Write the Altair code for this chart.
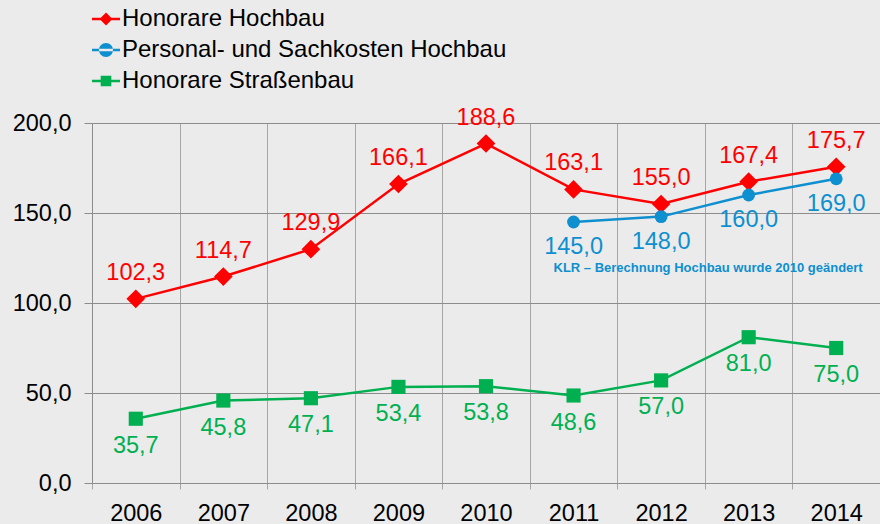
import altair as alt
import pandas as pd

YEARS = ["2006", "2007", "2008", "2009", "2010", "2011", "2012", "2013", "2014"]
HOCHBAU = [102.3, 114.7, 129.9, 166.1, 188.6, 163.1, 155.0, 167.4, 175.7]
PERSONAL_YEARS = ["2011", "2012", "2013", "2014"]
PERSONAL = [145.0, 148.0, 160.0, 169.0]
STRASSE = [35.7, 45.8, 47.1, 53.4, 53.8, 48.6, 57.0, 81.0, 75.0]
SERIES = ["Honorare Hochbau", "Personal- und Sachkosten Hochbau", "Honorare Straßenbau"]
COLORS = ["#FF0000", "#0E8FCF", "#00B050"]
Y_TICKS = [0, 50, 100, 150, 200]
NOTE_TEXT = "KLR – Berechnung Hochbau wurde 2010 geändert"
NOTE_YEAR = "2012"
NOTE_VALUE = 119.4

FONT = "Liberation Sans"
FS = 23.5

rows = []
for yr, v in zip(YEARS, HOCHBAU):
    rows.append({"year": yr, "value": v, "series": SERIES[0]})
for yr, v in zip(PERSONAL_YEARS, PERSONAL):
    rows.append({"year": yr, "value": v, "series": SERIES[1]})
for yr, v in zip(YEARS, STRASSE):
    rows.append({"year": yr, "value": v, "series": SERIES[2]})
df = pd.DataFrame(rows)
df["label"] = df["value"].map(lambda v: f"{v:.1f}".replace(".", ","))

x = alt.X(
    "year:O",
    sort=YEARS,
    scale=alt.Scale(type="band", domain=YEARS, paddingInner=0, paddingOuter=0),
    axis=alt.Axis(
        title=None, grid=True, tickBand="extent", labelAngle=0,
        domainColor="#8C8C8C", gridColor="#A6A6A6", tickColor="#A6A6A6",
        tickSize=6, labelFontSize=FS, labelFont=FONT, labelColor="#000000",
        labelPadding=12,
    ),
)
y = alt.Y(
    "value:Q",
    scale=alt.Scale(domain=[0, 200], nice=False, zero=True),
    axis=alt.Axis(
        title=None, values=Y_TICKS, grid=True,
        labelExpr="replace(format(datum.value, '.1f'), '.', ',')",
        domainColor="#8C8C8C", gridColor="#8C8C8C", tickColor="#8C8C8C",
        tickSize=8, labelFontSize=FS, labelFont=FONT, labelColor="#000000",
        labelPadding=13,
    ),
)

base = alt.Chart(df)

SHAPES = ["diamond", "circle", "square"]
SIZES = [350, 165, 200]
DYS = [-26, 25, 27]

layers = []
for s, c in zip(SERIES, COLORS):
    layers.append(
        base.transform_filter(alt.datum.series == s)
        .mark_line(strokeWidth=2.5, color=c)
        .encode(x=x, y=y)
    )
for s, c, shp, sz in zip(SERIES, COLORS, SHAPES, SIZES):
    layers.append(
        base.transform_filter(alt.datum.series == s)
        .mark_point(shape=shp, size=sz, filled=True, opacity=1, color=c)
        .encode(x=x, y=y)
    )
for s, c, dy in zip(SERIES, COLORS, DYS):
    layers.append(
        base.transform_filter(alt.datum.series == s)
        .mark_text(dy=dy, fontSize=FS, font=FONT, baseline="middle", align="center", color=c)
        .encode(x=x, y=y, text="label:N")
    )

note = alt.Chart(pd.DataFrame({"year": [NOTE_YEAR], "value": [NOTE_VALUE], "txt": [NOTE_TEXT]})).mark_text(
    dx=47, fontSize=13, font=FONT, fontWeight="bold", color=COLORS[1], align="center", baseline="middle"
).encode(x=x, y=y, text="txt:N")
layers.append(note)

LEGEND_PATHS = [
    "M-1,-0.09H1V0.09H-1Z M0,-0.46L0.46,0L0,0.46L-0.46,0Z",
    "M-1,-0.09H1V0.09H-1Z M-0.5,0A0.5,0.5 0 1,0 0.5,0A0.5,0.5 0 1,0 -0.5,0Z",
    "M-1,-0.09H1V0.09H-1Z M-0.38,-0.38H0.38V0.38H-0.38Z",
]
leg = alt.Legend(
    title=None, orient="none", legendX=0, legendY=-118,
    labelFontSize=24, labelFont=FONT, labelColor="#000000",
    symbolSize=784, symbolStrokeWidth=0, symbolOpacity=1,
    rowPadding=5, labelOffset=2, padding=0, labelLimit=600,
)
legend_layer = base.mark_point(filled=True, opacity=0, size=784).encode(
    x=x, y=y,
    color=alt.Color("series:N", scale=alt.Scale(domain=SERIES, range=COLORS), legend=leg),
    shape=alt.Shape("series:N", scale=alt.Scale(domain=SERIES, range=LEGEND_PATHS), legend=leg),
)
layers.insert(0, legend_layer)

chart = alt.layer(*layers).properties(
    width=788, height=360,
    padding={"left": 92, "top": 123, "right": 0, "bottom": 41},
    autosize=alt.AutoSizeParams(type="none"),
).configure(background="#EBEBEB").configure_view(stroke=None)

chart.save("out.html", embed_options={"renderer": "svg", "actions": False})
